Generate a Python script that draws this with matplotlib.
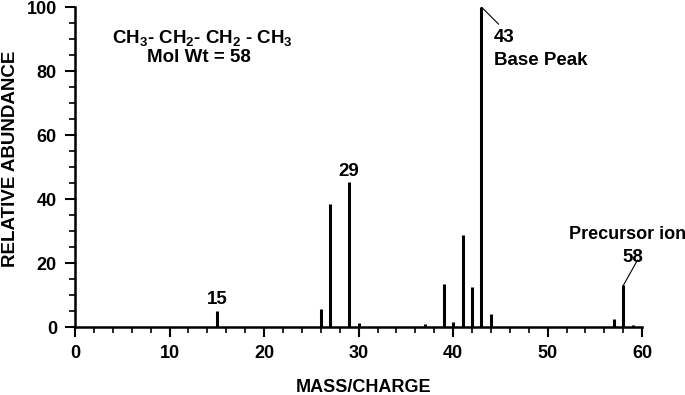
import matplotlib
matplotlib.use("Agg")
import matplotlib.pyplot as plt
from matplotlib.ticker import MultipleLocator

# m/z values and relative abundances (butane EI mass spectrum)
mz = [15, 26, 27, 29, 30, 37, 39, 40, 41, 42, 43, 44, 57, 58, 59]
abundance = [5.0, 5.6, 38.4, 45.3, 1.2, 1.0, 13.4, 1.6, 28.8, 12.5, 100.0, 4.1, 2.5, 13.0, 0.5]

x_label = "MASS/CHARGE"
y_label = "RELATIVE ABUNDANCE"
formula = "CH$_3$- CH$_2$- CH$_2$ - CH$_3$"
mol_wt = "Mol Wt = 58"

plt.rcParams["font.family"] = ["Liberation Sans", "DejaVu Sans"]
plt.rcParams["font.weight"] = "bold"
plt.rcParams["mathtext.fontset"] = "custom"
plt.rcParams["mathtext.rm"] = "Liberation Sans:bold"
plt.rcParams["mathtext.it"] = "Liberation Sans:bold"
plt.rcParams["mathtext.bf"] = "Liberation Sans:bold"
plt.rcParams["mathtext.default"] = "rm"

fig = plt.figure(figsize=(6.85, 3.95), dpi=100)
ax = fig.add_axes([0.1095, 0.172, 0.828, 0.810])

ax.vlines(mz, 0, abundance, colors="black", linewidth=2.2)

ax.set_xlim(0, 60)
ax.set_ylim(0, 100)
ax.spines["top"].set_visible(False)
ax.spines["right"].set_visible(False)
for s in ("left", "bottom"):
    ax.spines[s].set_linewidth(1.8)
ax.xaxis.set_major_locator(MultipleLocator(10))
ax.xaxis.set_minor_locator(MultipleLocator(2))
ax.yaxis.set_major_locator(MultipleLocator(20))
ax.yaxis.set_minor_locator(MultipleLocator(5))
ax.tick_params(which="major", length=7, width=1.5, labelsize=13, direction="out", pad=6)
ax.tick_params(which="minor", length=4, width=1.2, direction="out")
for lab in ax.get_xticklabels() + ax.get_yticklabels():
    lab.set_fontweight("bold")

ax.set_xlabel(x_label, fontsize=13, fontweight="bold")
ax.xaxis.set_label_coords(0.508, -0.163)
ax.set_ylabel(y_label, fontsize=13.5, fontweight="bold")
ax.yaxis.set_label_coords(-0.098, 0.525)

ax.text(13.5, 90.3, formula, fontsize=13.5, fontweight="bold", ha="center", va="center")
ax.text(13.1, 84.4, mol_wt, fontsize=13.5, fontweight="bold", ha="center", va="center")

ax.text(15, 8.6, "15", fontsize=13.5, fontweight="bold", ha="center", va="center")
ax.text(29, 48.7, "29", fontsize=13.5, fontweight="bold", ha="center", va="center")

ax.plot([43, 44.8], [100, 94.7], color="black", linewidth=0.8)
ax.text(44.3, 90.6, "43", fontsize=13.5, fontweight="bold", ha="left", va="center")
ax.text(44.3, 83.2, "Base Peak", fontsize=13.5, fontweight="bold", ha="left", va="center")

ax.plot([58, 59.5], [13, 20.9], color="black", linewidth=0.8)
ax.text(58.4, 28.8, "Precursor ion", fontsize=13, fontweight="bold", ha="center", va="center", clip_on=False)
ax.text(59.0, 21.8, "58", fontsize=13.5, fontweight="bold", ha="center", va="center")

fig.savefig("out.png", dpi=100)
